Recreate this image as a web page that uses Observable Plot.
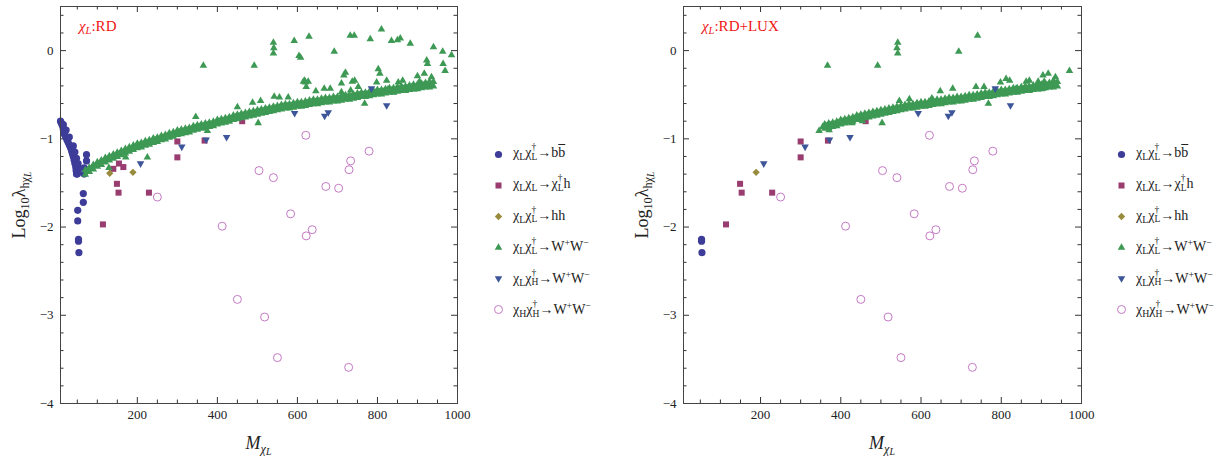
<!DOCTYPE html>
<html><head><meta charset="utf-8">
<script src="https://cdn.jsdelivr.net/npm/d3@7"></script>
<script src="https://cdn.jsdelivr.net/npm/@observablehq/plot@0.6"></script>
<style>
body{margin:0;background:#fff;}
#root{position:relative;width:1232px;height:460px;overflow:hidden;font-family:"Liberation Serif","DejaVu Serif",serif;color:#222;}
.lg{position:absolute;font-size:14px;line-height:18px;white-space:nowrap;color:#222;}
.lg sub,.lg sup{font-size:0.7em;line-height:0;}
.lg sub{vertical-align:-0.3em;}
.lg sup{vertical-align:0.5em;}
.ss{display:inline-block;vertical-align:-0.3em;font-size:0.68em;line-height:1em;}
.ss span{display:block;}
.ov{text-decoration:overline;}
.ttl{position:absolute;font-size:15px;line-height:15px;color:#f01414;white-space:nowrap;}
.ttl sub{font-size:0.7em;vertical-align:-0.25em;line-height:0;}
.ylab{position:absolute;font-size:18px;line-height:18px;white-space:nowrap;transform:translate(-50%,-50%) rotate(-90deg);}
.ylab sub{font-size:0.68em;vertical-align:-0.3em;line-height:0;}
.ylab sub sub{font-size:0.8em;vertical-align:-0.25em;}
.xlab{position:absolute;font-size:18px;line-height:18px;white-space:nowrap;transform:translate(-50%,-50%);}
.xlab sub{font-size:0.68em;vertical-align:-0.3em;line-height:0;}
.xlab sub sub{font-size:0.8em;vertical-align:-0.25em;}
</style></head><body><div id="root"></div>
<script>
// ---------- data ----------
const xDomain = [8, 1000];
const yDomain = [-4, 0.5];
const xMajor = [200, 400, 600, 800, 1000];
const xMinor = [50, 100, 150, 250, 300, 350, 450, 500, 550, 650, 700, 750, 850, 900, 950];
const yMajor = [-4, -3, -2, -1, 0];
const yMinor = [-3.8, -3.6, -3.4, -3.2, -2.8, -2.6, -2.4, -2.2, -1.8, -1.6, -1.4, -1.2, -0.8, -0.6, -0.4, -0.2, 0.2, 0.4];

const panelTitles = ["RD", "RD+LUX"];

// chi_L chi_L^dagger -> b bbar
const bbRD = [[8,-0.80],[10,-0.82],[12,-0.84],[14,-0.86],[15,-0.89],[17,-0.92],[18,-0.95],[21,-0.98],[24,-1.01],[27,-1.04],[30,-1.07],[33,-1.10],[36,-1.14],[38,-1.17],[40,-1.20],[42,-1.24],[44,-1.28],[46,-1.32],[47,-1.36],[48,-1.40],[52,-1.38],[54,-1.33],[52,-1.28],[48,-1.22],[44,-1.15],[40,-1.08],[30,-0.98],[22,-0.90],[15,-0.84],[50,-1.40],[67,-1.33],[67,-1.40],[73,-1.18],[73,-1.25],[65,-1.62],[65,-1.72],[51,-1.81],[51,-1.93],[53,-2.14],[53,-2.16],[54,-2.29]];
const bbLUX = [[53,-2.14],[53,-2.16],[54,-2.29]];

// chi_L chi_L -> chi_L^dagger h
const chihRD = [[140,-1.34],[154,-1.28],[165,-1.32],[149,-1.51],[153,-1.61],[229,-1.61],[114,-1.97],[300,-1.03],[300,-1.21],[368,-1.02],[462,-0.80]];
const chihLUX = [[114,-1.97],[149,-1.51],[153,-1.61],[229,-1.61],[300,-1.03],[300,-1.21],[368,-1.02],[462,-0.80]];

// chi_L chi_L^dagger -> hh
const hhRD = [[131,-1.39],[189,-1.38]];
const hhLUX = [[189,-1.38]];

// chi_L chi_L^dagger -> W+W- : dense band (three rows of points)
const bandX = [70,80,90,100,110,120,130,140,150,160,170,180,190,200,210,220,230,240,250,260,270,280,290,300,310,320,330,340,350,360,370,380,390,400,410,420,430,440,450,460,470,480,490,500,510,520,530,540,550,560,570,580,590,600,610,620,630,640,650,660,670,680,690,700,710,720,730,740,750,760,770,780,790,800,810,820,830,840,850,860,870,880,890,900,910,920,930,940];
const bandYa = [-1.355,-1.375,-1.295,-1.315,-1.245,-1.265,-1.195,-1.225,-1.155,-1.185,-1.115,-1.145,-1.075,-1.105,-1.045,-1.075,-1.015,-1.045,-0.985,-1.015,-0.955,-0.985,-0.925,-0.955,-0.895,-0.935,-0.875,-0.905,-0.845,-0.885,-0.825,-0.865,-0.805,-0.835,-0.775,-0.815,-0.755,-0.785,-0.725,-0.765,-0.705,-0.745,-0.685,-0.725,-0.665,-0.705,-0.645,-0.685,-0.625,-0.665,-0.605,-0.655,-0.595,-0.635,-0.585,-0.625,-0.565,-0.605,-0.555,-0.595,-0.535,-0.585,-0.525,-0.575,-0.515,-0.555,-0.505,-0.545,-0.485,-0.525,-0.475,-0.515,-0.455,-0.495,-0.445,-0.485,-0.425,-0.475,-0.415,-0.455,-0.405,-0.445,-0.385,-0.435,-0.375,-0.415,-0.365,-0.405];
const bandYb = [-1.405,-1.325,-1.345,-1.265,-1.295,-1.215,-1.245,-1.175,-1.205,-1.135,-1.165,-1.095,-1.125,-1.055,-1.095,-1.025,-1.065,-0.995,-1.035,-0.965,-1.005,-0.935,-0.975,-0.905,-0.945,-0.885,-0.925,-0.855,-0.895,-0.835,-0.875,-0.815,-0.855,-0.785,-0.825,-0.765,-0.805,-0.735,-0.775,-0.715,-0.755,-0.695,-0.735,-0.675,-0.715,-0.655,-0.695,-0.635,-0.675,-0.615,-0.655,-0.605,-0.645,-0.585,-0.635,-0.575,-0.615,-0.555,-0.605,-0.545,-0.585,-0.535,-0.575,-0.525,-0.565,-0.505,-0.555,-0.495,-0.535,-0.475,-0.525,-0.465,-0.505,-0.445,-0.495,-0.435,-0.475,-0.425,-0.465,-0.405,-0.455,-0.395,-0.435,-0.385,-0.425,-0.365,-0.415,-0.355];
const bandXc = [75,85,95,105,115,125,135,145,155,165,175,185,195,205,215,225,235,245,255,265,275,285,295,305,315,325,335,345,355,365,375,385,395,405,415,425,435,445,455,465,475,485,495,505,515,525,535,545,555,565,575,585,595,605,615,625,635,645,655,665,675,685,695,705,715,725,735,745,755,765,775,785,795,805,815,825,835,845,855,865,875,885,895,905,915,925,935];
const bandYc = [-1.365,-1.335,-1.305,-1.28,-1.255,-1.23,-1.21,-1.19,-1.17,-1.15,-1.13,-1.11,-1.09,-1.075,-1.06,-1.045,-1.03,-1.015,-1.0,-0.985,-0.97,-0.955,-0.94,-0.925,-0.915,-0.905,-0.89,-0.875,-0.865,-0.855,-0.845,-0.835,-0.82,-0.805,-0.795,-0.785,-0.77,-0.755,-0.745,-0.735,-0.725,-0.715,-0.705,-0.695,-0.685,-0.675,-0.665,-0.655,-0.645,-0.635,-0.63,-0.625,-0.615,-0.61,-0.605,-0.595,-0.585,-0.58,-0.575,-0.565,-0.56,-0.555,-0.55,-0.545,-0.535,-0.53,-0.525,-0.515,-0.505,-0.50,-0.495,-0.485,-0.475,-0.47,-0.465,-0.455,-0.45,-0.445,-0.435,-0.43,-0.425,-0.415,-0.41,-0.405,-0.395,-0.39,-0.385];
// scattered W+W- points
const wwRD = [[365,-0.17],[492,-0.17],[540,0.09],[541,0.03],[540,-0.03],[592,0.11],[604,-0.06],[629,0.16],[608,-0.08],[692,-0.01],[732,0.17],[742,0.17],[782,0.13],[810,0.24],[835,0.11],[850,0.12],[857,0.14],[882,0.08],[940,0.04],[963,-0.01],[985,-0.05],[923,-0.11],[925,-0.15],[964,-0.15],[969,-0.23],[615,-0.35],[620,-0.36],[622,-0.41],[646,-0.46],[618,-0.34],[627,-0.35],[720,-0.25],[716,-0.28],[802,-0.21],[806,-0.26],[710,-0.37],[737,-0.35],[743,-0.34],[798,-0.36],[823,-0.34],[852,-0.36],[863,-0.34],[900,-0.29],[917,-0.26],[935,-0.30],[905,-0.35],[930,-0.35],[667,-0.43],[682,-0.43],[710,-0.47],[733,-0.45],[752,-0.41],[826,-0.44],[840,-0.47],[877,-0.43],[891,-0.44],[768,-0.60],[502,-0.82],[346,-0.75],[450,-0.64],[488,-0.59],[508,-0.57],[542,-0.52],[555,-0.53],[577,-0.53],[375,-0.91],[225,-1.21],[171,-1.21],[129,-1.33]];
const wwLUX = [[367,-0.17],[492,-0.17],[542,0.09],[540,0.03],[542,-0.03],[694,-0.01],[741,0.17],[970,-0.23],[904,-0.28],[917,-0.26],[935,-0.30],[907,-0.35],[930,-0.34],[812,-0.32],[821,-0.34],[862,-0.35],[870,-0.34],[892,-0.35],[798,-0.36],[679,-0.43],[648,-0.46],[627,-0.54],[737,-0.41],[757,-0.41],[571,-0.55],[546,-0.57],[837,-0.43],[850,-0.42],[891,-0.44],[904,-0.43],[503,-0.82],[768,-0.60],[371,-0.90],[346,-0.91],[428,-0.82],[454,-0.80]];
const bandLUXmin = 355;

// chi_L chi_H^dagger -> W+W-
const lhW = [[208,-1.28],[311,-1.09],[372,-1.01],[423,-0.98],[593,-0.71],[668,-0.74],[677,-0.70],[785,-0.43],[823,-0.62]];
// chi_H chi_H^dagger -> W+W-
const hhW = [[250,-1.66],[412,-1.99],[450,-2.82],[504,-1.36],[518,-3.02],[540,-1.44],[550,-3.48],[583,-1.85],[621,-0.96],[622,-2.10],[637,-2.03],[671,-1.54],[703,-1.56],[728,-3.59],[729,-1.35],[733,-1.25],[779,-1.14]];

const legendKeys = ["bb","chih","hh","ww","lhw","hhw"];
const dag = s => '<span class="ss"><span>†</span><span>' + s + '</span></span>';
const legendHTML = [
  'χ<sub>L</sub>χ' + dag('L') + '→b<span class="ov">b</span>',
  'χ<sub>L</sub>χ<sub>L</sub>→χ' + dag('L') + 'h',
  'χ<sub>L</sub>χ' + dag('L') + '→hh',
  'χ<sub>L</sub>χ' + dag('L') + '→W<sup>+</sup>W<sup>−</sup>',
  'χ<sub>L</sub>χ' + dag('H') + '→W<sup>+</sup>W<sup>−</sup>',
  'χ<sub>H</sub>χ' + dag('H') + '→W<sup>+</sup>W<sup>−</sup>'
];

// ---------- styles ----------
const col = {bb:"#3d3d99", chih:"#993d71", hh:"#998b3d", ww:"#3d9954", lhw:"#3d5599", hhw:"#c479c4"};
const downTri = {draw(ctx, size){ const s3 = Math.sqrt(3); const y = Math.sqrt(size/(s3*3)); ctx.moveTo(0, 2*y); ctx.lineTo(-s3*y, -y); ctx.lineTo(s3*y, -y); ctx.closePath(); }};
const sty = {
  bb:{symbol:"circle", fill:col.bb, r:3.6},
  chih:{symbol:"square", fill:col.chih, r:3.4},
  hh:{symbol:"diamond2", fill:col.hh, r:3.3},
  ww:{symbol:"triangle", fill:col.ww, r:2.8},
  lhw:{symbol:downTri, fill:col.lhw, r:2.8},
  hhw:{symbol:"circle", fill:"none", stroke:col.hhw, strokeWidth:1, r:4}
};
const fmt = d => d < 0 ? "\u2212" + Math.abs(d) : String(d);
const W = 470, H = 460, MT = 6, MB = 57;
const root = document.getElementById("root");
function place(el, left, top){ el.style.position = "absolute"; el.style.left = left + "px"; el.style.top = top + "px"; root.appendChild(el); return el; }
function html(cls, inner, left, top){ const d = document.createElement("div"); d.className = cls; d.innerHTML = inner; d.style.left = left + "px"; d.style.top = top + "px"; root.appendChild(d); return d; }

function panel(ml, mr, sets){
  const kx = (W - ml - mr) / (xDomain[1] - xDomain[0]);
  const ky = (H - MT - MB) / (yDomain[1] - yDomain[0]);
  const big = 6, small = 3.5, tc = "#333";
  const X = d => d[0], Y = d => d[1];
  const dot = (data, key) => Plot.dot(data, {x: X, y: Y, stroke: "none", ...sty[key]});
  return Plot.plot({
    width: W, height: H, marginLeft: ml, marginRight: mr, marginTop: MT, marginBottom: MB,
    x: {domain: xDomain}, y: {domain: yDomain},
    style: {fontFamily: '"Liberation Serif", serif', fontSize: "13px", color: "#222", background: "none", overflow: "visible"},
    marks: [
      Plot.ruleX(xMajor, {x: d => d, y1: yDomain[0], y2: yDomain[0] + big/ky, stroke: tc}),
      Plot.ruleX(xMajor, {x: d => d, y1: yDomain[1], y2: yDomain[1] - big/ky, stroke: tc}),
      Plot.ruleX(xMinor, {x: d => d, y1: yDomain[0], y2: yDomain[0] + small/ky, stroke: tc}),
      Plot.ruleX(xMinor, {x: d => d, y1: yDomain[1], y2: yDomain[1] - small/ky, stroke: tc}),
      Plot.ruleY(yMajor, {y: d => d, x1: xDomain[0], x2: xDomain[0] + big/kx, stroke: tc}),
      Plot.ruleY(yMajor, {y: d => d, x1: xDomain[1], x2: xDomain[1] - big/kx, stroke: tc}),
      Plot.ruleY(yMinor, {y: d => d, x1: xDomain[0], x2: xDomain[0] + small/kx, stroke: tc}),
      Plot.ruleY(yMinor, {y: d => d, x1: xDomain[1], x2: xDomain[1] - small/kx, stroke: tc}),
      Plot.axisX({ticks: xMajor, tickSize: 0, tickPadding: 6, tickFormat: fmt, label: null}),
      Plot.axisY({ticks: yMajor, tickSize: 0, tickPadding: 7, tickFormat: fmt, label: null}),
      dot(sets.bb, "bb"),
      dot(sets.chih, "chih"),
      dot(sets.hh, "hh"),
      dot(sets.ww, "ww"),
      dot(sets.lhw, "lhw"),
      dot(sets.hhw, "hhw"),
      Plot.frame({stroke: "#444", strokeWidth: 1})
    ]
  });
}

const band = bandX.map((x, i) => [x, bandYa[i]])
  .concat(bandX.map((x, i) => [x, bandYb[i]]))
  .concat(bandXc.map((x, i) => [x, bandYc[i]]));
const setsRD = {bb: bbRD, chih: chihRD, hh: hhRD, ww: band.concat(wwRD), lhw: lhW, hhw: hhW};
const setsLUX = {bb: bbLUX, chih: chihLUX, hh: hhLUX, ww: band.filter(d => d[0] >= bandLUXmin).concat(wwLUX), lhw: lhW, hhw: hhW};

const panels = [
  {left: 0, ml: 60, mr: 13, sets: setsRD, legendLeft: 483},
  {left: 620, ml: 63, mr: 9, sets: setsLUX, legendLeft: 1106}
];

const legTop = 138, legRange = [15, 172];
panels.forEach((p, pi) => {
  place(panel(p.ml, p.mr, p.sets), p.left, 0);
  const leg = Plot.plot({
    width: 30, height: 200, margin: 0,
    x: {domain: [0, 1], axis: null},
    y: {type: "point", domain: legendKeys, range: legRange, padding: 0, axis: null},
    style: {background: "none", overflow: "visible"},
    marks: legendKeys.map(k => Plot.dot([k], {x: () => 0.5, y: d => d, stroke: "none", ...sty[k]}))
  });
  place(leg, p.legendLeft, legTop);
  const step = (legRange[1] - legRange[0]) / (legendKeys.length - 1);
  legendHTML.forEach((h, i) => {
    html("lg", h, p.legendLeft + 30, legTop + legRange[0] + i*step - 10);
  });
  const fx0 = p.left + p.ml, fx1 = p.left + W - p.mr;
  html("ttl", '<i>χ<sub>L</sub></i>:' + panelTitles[pi], fx0 + 19, 19);
  html("ylab", 'Log<sub>10</sub>λ<sub>hχ<sub><i>L</i></sub></sub>', fx0 - 41, (MT + H - MB) / 2);
  html("xlab", '<i>M</i><sub><i>χ<sub>L</sub></i></sub>', (fx0 + fx1) / 2, 443);
});
</script></body></html>
